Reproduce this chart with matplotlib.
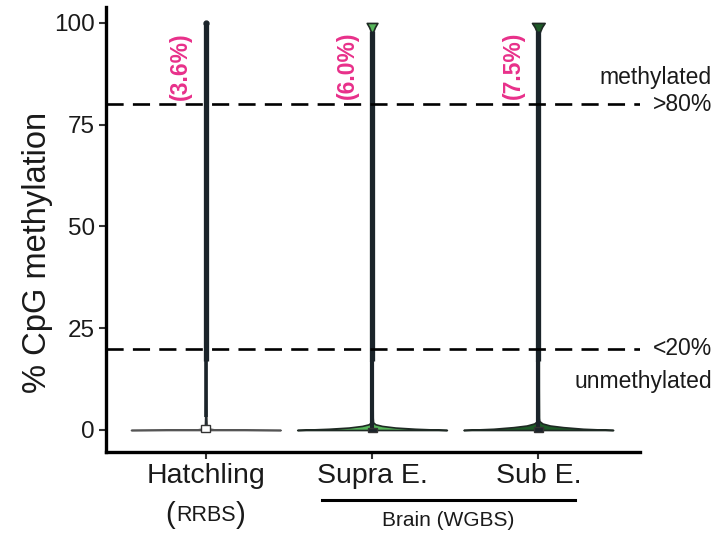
import matplotlib.pyplot as plt

plt.rcParams["font.family"] = ["Liberation Sans", "DejaVu Sans"]

# Data
groups = ["Hatchling", "Supra E.", "Sub E."]
methylated_pct = ["(3.6%)", "(6.0%)", "(7.5%)"]
fill_colors = ["white", "#57b65b", "#1d5a27"]
edge_colors = ["#555555", "#1f2a24", "#1f2a24"]

# violin profiles: % methylation level and half width
hatch_y = [0, 0.15, 0.4, 1, 3, 10, 50, 90, 99, 100]
hatch_w = [0.45, 0.05, 0.012, 0.006, 0.004, 0.002, 0.001, 0.001, 0.003, 0.004]
supra_y = [0, 0.3, 0.6, 1.0, 1.4, 1.9, 3, 10, 50, 90, 97.8, 99, 100]
supra_w = [0.45, 0.26, 0.14, 0.06, 0.02, 0.006, 0.004, 0.003, 0.002, 0.003, 0.006, 0.018, 0.032]
sub_y = [0, 0.3, 0.7, 1.1, 1.6, 2.2, 3, 10, 50, 90, 97.5, 99, 100]
sub_w = [0.45, 0.27, 0.15, 0.07, 0.025, 0.006, 0.004, 0.003, 0.002, 0.003, 0.006, 0.022, 0.038]
violin_y = [hatch_y, supra_y, sub_y]
violin_w = [hatch_w, supra_w, sub_w]

# boxplot pieces: box q1/q3, whisker top, outlier range
box_q1 = [0, 0, 0]
box_q3 = [1.2, 0.6, 0.7]
whisker_top = [3.2, 17, 17]
outlier_low = [17, 17, 17]
outlier_high = [100, 98, 98]

thresholds = [80, 20]

fig = plt.figure(figsize=(7.14, 5.34), dpi=100)
ax = fig.add_axes([0.1485, 0.1536, 0.7475, 0.8339])

for i, g in enumerate(groups):
    pos = i + 1
    y = violin_y[i]
    w = violin_w[i]
    ax.fill_betweenx(y, [pos - v for v in w], [pos + v for v in w],
                     facecolor=fill_colors[i], edgecolor=edge_colors[i],
                     linewidth=1.2, zorder=2)
    # whisker
    if i == 0:
        ax.vlines(pos, box_q3[i], whisker_top[i], color="#1b242a", lw=1.2, zorder=3)
        ax.vlines(pos, whisker_top[i], outlier_low[i], color="#1b242a", lw=2.6, zorder=3)
    else:
        ax.vlines(pos, box_q3[i], whisker_top[i], color="#1b242a", lw=3.0, zorder=3)
    # outliers packed into a column
    ax.vlines(pos, outlier_low[i], outlier_high[i], color="#1b242a", lw=3.8, zorder=3)
    # box
    box_color = "white" if i == 0 else "#1b242a"
    ax.add_patch(plt.Rectangle((pos - 0.027, box_q1[i] - 0.6), 0.054,
                               box_q3[i] - box_q1[i] + 0.6,
                               facecolor=box_color, edgecolor="#333333",
                               lw=1, zorder=4))
    if i == 0:
        ax.plot(pos, outlier_high[i], "o", color="#1b242a", ms=3.5, zorder=4)
    ax.text(pos - 0.15, 89.5, methylated_pct[i], rotation=90, ha="center",
            va="center", color="#e8308a", fontsize=16.5, fontweight="bold")

for t in thresholds:
    ax.axhline(t, color="black", lw=1.9, dashes=(6.5, 3.5), zorder=5)

ax.set_xlim(0.4, 3.61)
ax.set_ylim(-5.4, 104)
ax.set_xticks([1, 2, 3])
ax.set_xticklabels(groups, fontsize=20.5, color="#1a1a1a")
ax.set_yticks([0, 25, 50, 75, 100])
ax.set_yticklabels(["0", "25", "50", "75", "100"], fontsize=17.5, color="#1a1a1a")
ax.set_ylabel("% CpG methylation", fontsize=23.5, color="#1a1a1a")
ax.yaxis.set_label_coords(-0.10, 0.449)
ax.tick_params(axis="both", length=5, width=1.5, color="#333333", pad=3)
for s in ["top", "right"]:
    ax.spines[s].set_visible(False)
for s in ["left", "bottom"]:
    ax.spines[s].set_linewidth(2.4)

# (RRBS) under Hatchling
tr = ax.get_xaxis_transform()
ax.annotate("RRBS", (1, -0.142), xycoords=tr, ha="center", va="center",
            fontsize=15.5, color="#1a1a1a", annotation_clip=False)
ax.annotate("(", (1, -0.142), xycoords=tr, xytext=(-26, 0),
            textcoords="offset points", ha="center", va="center",
            fontsize=21, color="#1a1a1a", annotation_clip=False)
ax.annotate(")", (1, -0.142), xycoords=tr, xytext=(25, 0),
            textcoords="offset points", ha="center", va="center",
            fontsize=21, color="#1a1a1a", annotation_clip=False)

# Brain bracket
ax.plot([1.70, 3.22], [-0.108, -0.108], transform=tr, color="black",
        lw=2.2, clip_on=False)
ax.text(2.46, -0.155, "Brain (WGBS)", transform=tr, ha="center", va="center",
        fontsize=15, color="#1a1a1a")

# right side labels
ytr = ax.get_yaxis_transform()
ax.text(1.135, 86.7, "methylated", transform=ytr, ha="right", va="center",
        fontsize=16.5, color="#1a1a1a")
ax.text(1.135, 80, ">80%", transform=ytr, ha="right", va="center",
        fontsize=16.5, color="#1a1a1a")
ax.text(1.135, 20, "<20%", transform=ytr, ha="right", va="center",
        fontsize=16.5, color="#1a1a1a")
ax.text(1.135, 12.0, "unmethylated", transform=ytr, ha="right", va="center",
        fontsize=16.5, color="#1a1a1a")

fig.savefig("out.png", dpi=100)
